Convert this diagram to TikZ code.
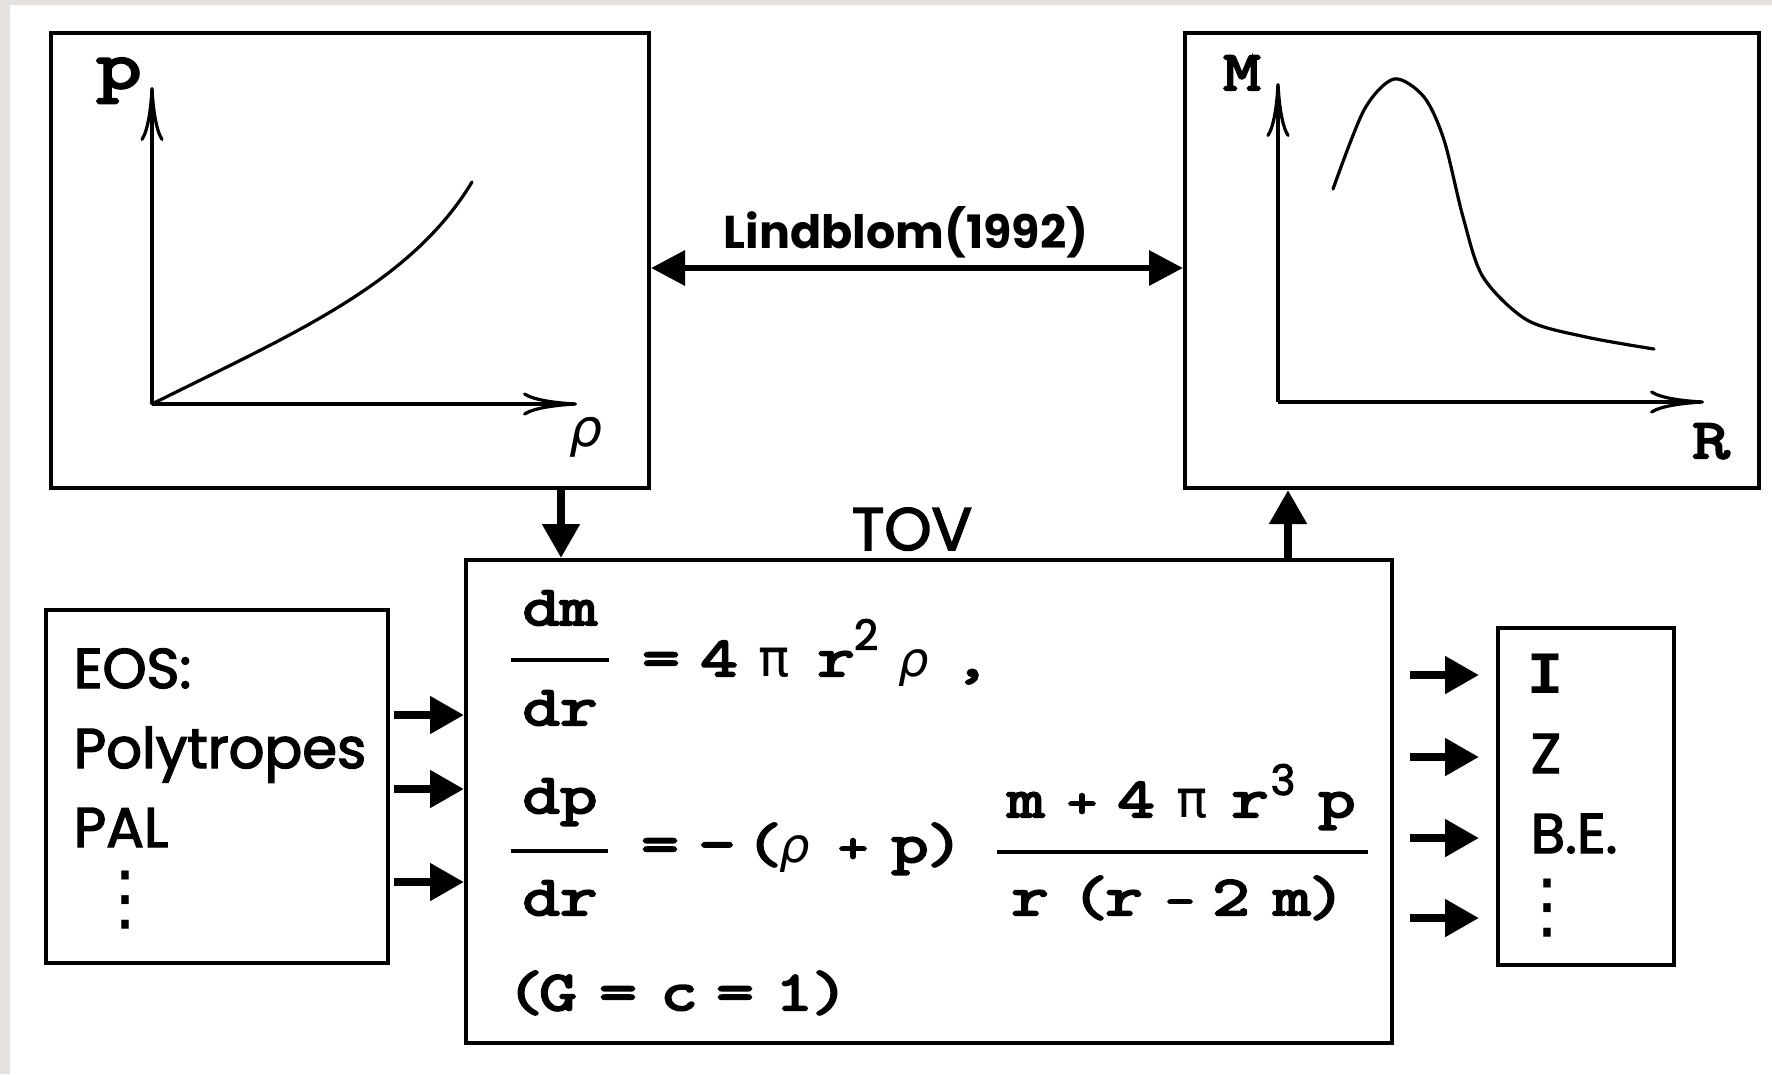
\documentclass[tikz,border=0pt]{standalone}
\usepackage{fontspec}
\setmainfont{Poppins}
\newfontfamily\cmc[FakeBold=2.5]{Poppins}
\newfontfamily\cour[FakeStretch=1.3,FakeBold=4]{Latin Modern Mono}
\newfontfamily\mono{Liberation Mono}
\newfontfamily\grk{DejaVu Sans}
\usetikzlibrary{arrows.meta,calc}
\definecolor{frame}{HTML}{E6E0DE}
\tikzset{
  box/.style={draw,line width=1pt,fill=white,inner sep=0pt},
  arr/.style={-{Triangle[length=8.5pt,width=9pt]},line width=2pt},
  biarr/.style={{Triangle[length=8.5pt,width=8.5pt]}-{Triangle[length=8.5pt,width=8.5pt]},line width=1.6pt},
  axis/.style={-{Computer Modern Rightarrow[length=13.5pt,width=5.8pt]},line width=.8pt},
  crv/.style={line width=.8pt,line cap=round},
  bar/.style={line width=1.2pt},
  txt/.style={inner sep=0pt,anchor=base},
  lbl/.style={txt,anchor=base west,font=\cmc\fontsize{14}{14}\selectfont},
  vdots/.style={txt,font=\grk\fontsize{18}{18}\selectfont},
  eq/.style={txt,font=\cour\fontsize{14}{14}\selectfont},
  op/.style={txt,font=\cour\fontsize{11}{11}\selectfont},
  gk/.style={txt,font=\grk\fontsize{13}{13}\selectfont},
  gki/.style={txt,font=\grk\itshape\fontsize{12}{12}\selectfont},
  sup/.style={txt,font=\cmc\fontsize{10.5}{10.5}\selectfont}
}
\begin{document}
\begin{tikzpicture}[x=.25pt,y=-.25pt]
  \useasboundingbox (0,0) rectangle (1772,1074);
  \fill[frame] (0,0) rectangle (1772,1074);
  \fill[white] (10,5) rectangle (1772,1074);

  % boxes
  \node[box,minimum width=149.5pt,minimum height=113.75pt] (eosplot) at (350,260.5) {};
  \node[box,minimum width=143.5pt,minimum height=113.75pt] (mrplot) at (1472,260.5) {};
  \node[box,minimum width=231.5pt,minimum height=120.75pt] (tov) at (929,801.5) {};
  \node[box,minimum width=85.5pt,minimum height=88.25pt] (eos) at (217,786.5) {};
  \node[box,minimum width=44pt,minimum height=84.25pt] (res) at (1586,796.5) {};

  % p(rho) sketch
  \coordinate (o1) at (152,404);
  \draw[axis] (o1) -- (152,87);
  \draw[axis] (o1) -- (577,404);
  \draw[crv] (o1) .. controls (290,335) and (410,285) .. (472,182);
  \node[eq,font=\cour\fontsize{17}{17}\selectfont] (plbl) at (119,88) {p};
  \node[gki,font=\grk\itshape\fontsize{13}{13}\selectfont] (rholbl) at (586,446) {ρ};

  % M(R) sketch
  \coordinate (o2) at (1278,402);
  \draw[axis] (o2) -- (1278,83);
  \draw[axis] (o2) -- (1704,402);
  \draw[crv] plot[smooth] coordinates {(1333,189) (1364,110) (1394,79) (1424,97) (1444,140)
    (1463,217) (1483,277) (1527,320) (1586,337) (1654,349)};
  \node[eq,font=\cour\fontsize{14}{14}\selectfont] (mlbl) at (1242,90) {M};
  \node[eq,font=\cour\fontsize{14}{14}\selectfont] (rlbl) at (1711,458) {R};

  % connectors
  \draw[biarr] ($(eosplot.east)+(0,7.5)$) -- ($(mrplot.west)+(0,7.5)$);
  \node[txt,font=\bfseries\fontsize{11.5}{11.5}\selectfont] (lind) at (906,248) {Lindblom(1992)};
  \draw[arr] (eosplot.south -| 561,0) -- (tov.north -| 561,0);
  \draw[arr] (tov.north -| 1288,0) -- (mrplot.south -| 1288,0);
  \node[txt,font=\cmc\fontsize{15}{15}\selectfont] (tovlbl) at (912,550) {TOV};
  \foreach \y [count=\i] in {715,789,882}
    \draw[arr,shorten <=1pt] (eos.east |- 0,\y) -- (tov.west |- 0,\y);
  \foreach \y [count=\i] in {675,757,838,918}
    \draw[arr,shorten <=4pt,shorten >=4.25pt] (tov.east |- 0,\y) -- (res.west |- 0,\y);

  % EOS list
  \foreach \t/\y [count=\i] in {EOS:/688,Polytropes/768,PAL/847}
    \node[lbl] (eos\i) at (73,\y) {\t};
  \node[vdots] (eosdots) at (125,922) {⋮};

  % results
  \node[lbl,font=\mono\bfseries\fontsize{15}{15}\selectfont] (res1) at (1527,693) {I};
  \foreach \t/\y [count=\i from 2] in {Z/773,B.E./853}
    \node[lbl] (res\i) at (1530,\y) {\t};
  \node[vdots] (resdots) at (1547,930) {⋮};

  % TOV equations
  \node[eq] (dm) at (560,625) {dm};
  \draw[bar] (511,660) -- (609,660);
  \node[eq] (dr1) at (560,725) {dr};
  \node[eq] (dp) at (560,813) {dp};
  \draw[bar] (511,851) -- (608,851);
  \node[eq] (dr2) at (560,915) {dr};
  \draw[bar] (997,852) -- (1368,852);
  \foreach \x/\y/\s/\t [count=\i] in {661/676/eq/=,719/676/eq/4,774/676/gk/π,836/676/eq/r,
      866/650/sup/2,914/676/gki/ρ,972/676/eq/{,}}
    \node[\s] (a\i) at (\x,\y) {\t};
  \foreach \x/\y/\s/\t [count=\i] in {660/862/eq/=,717/862/eq/–,764/862/eq/(,795/862/gki/ρ,
      853/862/op/+,910/862/eq/p,945/862/eq/)}
    \node[\s] (b\i) at (\x,\y) {\t};
  \foreach \x/\y/\s/\t [count=\i] in {1026/817/eq/m,1082/817/op/+,1136/817/eq/4,1192/817/gk/π,
      1250/817/eq/r,1283/795/sup/3,1337/817/eq/p}
    \node[\s] (n\i) at (\x,\y) {\t};
  \foreach \x/\y/\s/\t [count=\i] in {1030/915/eq/r,1090/915/eq/(,1124/915/eq/r,1180/915/op/–,
      1231/915/eq/2,1292/915/eq/m,1327/915/eq/)}
    \node[\s] (d\i) at (\x,\y) {\t};
  \foreach \x/\y/\s/\t [count=\i] in {525/1010/eq/(,558/1010/eq/G,618/1010/eq/=,679/1010/eq/c,
      735/1010/eq/=,794/1010/eq/1,830/1010/eq/)}
    \node[\s] (g\i) at (\x,\y) {\t};
\end{tikzpicture}
\end{document}
